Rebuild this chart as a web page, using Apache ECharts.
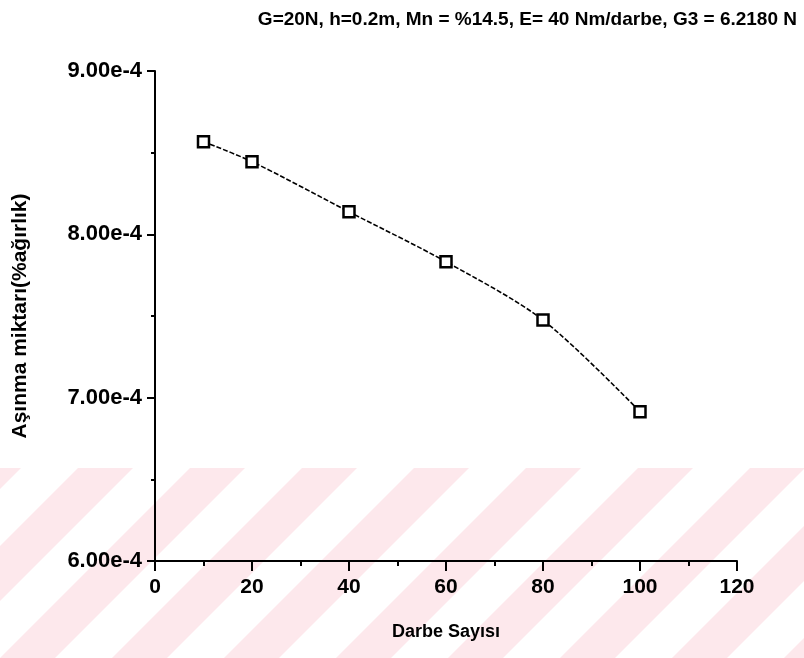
<!DOCTYPE html>
<html>
<head>
<meta charset="utf-8">
<script src="https://cdn.jsdelivr.net/npm/echarts@6/dist/echarts.min.js"></script>
<style>
html,body{margin:0;padding:0;background:#fff;}
#chart{width:804px;height:658px;}
</style>
</head>
<body>
<div id="chart"></div>
<script>
var titleText = 'G=20N, h=0.2m, Mn = %14.5, E= 40 Nm/darbe, G3 = 6.2180 N';
var xName = 'Darbe Sayısı';
var yName = 'Aşınma miktarı(%ağırlık)';
var darbe = [10, 20, 40, 60, 80, 100];
var asinma = [8.567e-4, 8.445e-4, 8.138e-4, 7.832e-4, 7.475e-4, 6.914e-4];
var xMin = 0, xMax = 120, xStep = 20;
var yMin = 6e-4, yMax = 9e-4, yStep = 1e-4;

var FONT = "'Liberation Sans', Arial, sans-serif";
var chart = echarts.init(document.getElementById('chart'), null, {renderer: 'canvas'});

// faint pink diagonal watermark bands
var bands = [];
for (var i = -2; i < 9; i++) {
  var x0 = i * 112;
  bands.push({
    type: 'polygon', z: -10, silent: true,
    shape: {points: [[x0, 658], [x0 + 55, 658], [x0 + 55 + 190, 468], [x0 + 190, 468]]},
    style: {fill: '#fde8ec'}
  });
}

chart.setOption({
  backgroundColor: '#ffffff',
  animation: false,
  graphic: bands,
  title: {
    text: titleText,
    right: 2, top: 5,
    textStyle: {fontFamily: FONT, fontSize: 19, fontWeight: 'bold', color: '#000'}
  },
  grid: {left: 155, right: 67, top: 71, bottom: 97, containLabel: false},
  xAxis: {
    type: 'value', min: xMin, max: xMax, interval: xStep,
    name: xName, nameLocation: 'middle', nameGap: 62,
    nameTextStyle: {fontFamily: FONT, fontSize: 18, fontWeight: 'bold', color: '#000'},
    axisLine: {show: true, onZero: false, lineStyle: {color: '#000', width: 2}},
    axisTick: {show: true, inside: false, length: 10, lineStyle: {color: '#000', width: 2}},
    minorTick: {show: true, splitNumber: 2, length: 5, lineStyle: {color: '#000', width: 2}},
    splitLine: {show: false},
    axisLabel: {fontFamily: FONT, fontSize: 21, fontWeight: 'bold', color: '#000', margin: 16}
  },
  yAxis: {
    type: 'value', min: yMin, max: yMax, interval: yStep,
    name: yName, nameLocation: 'middle', nameGap: 124, nameRotate: 90,
    nameTextStyle: {fontFamily: FONT, fontSize: 21, fontWeight: 'bold', color: '#000'},
    axisLine: {show: true, onZero: false, lineStyle: {color: '#000', width: 2}},
    axisTick: {show: true, inside: false, length: 8, lineStyle: {color: '#000', width: 2}},
    minorTick: {show: true, splitNumber: 2, length: 4, lineStyle: {color: '#000', width: 2}},
    splitLine: {show: false},
    axisLabel: {
      fontFamily: FONT, fontSize: 22, fontWeight: 'bold', color: '#000', margin: 13,
      formatter: function (v) { return Number(v).toExponential(2); }
    }
  },
  series: [{
    type: 'line',
    data: darbe.map(function (d, i) { return [d, asinma[i]]; }),
    smooth: 0.3,
    symbol: 'rect', symbolSize: 11,
    itemStyle: {color: '#fff', borderColor: '#000', borderWidth: 2.5},
    lineStyle: {color: '#000', width: 1.6, type: [5, 2]}
  }]
});
</script>
</body>
</html>
